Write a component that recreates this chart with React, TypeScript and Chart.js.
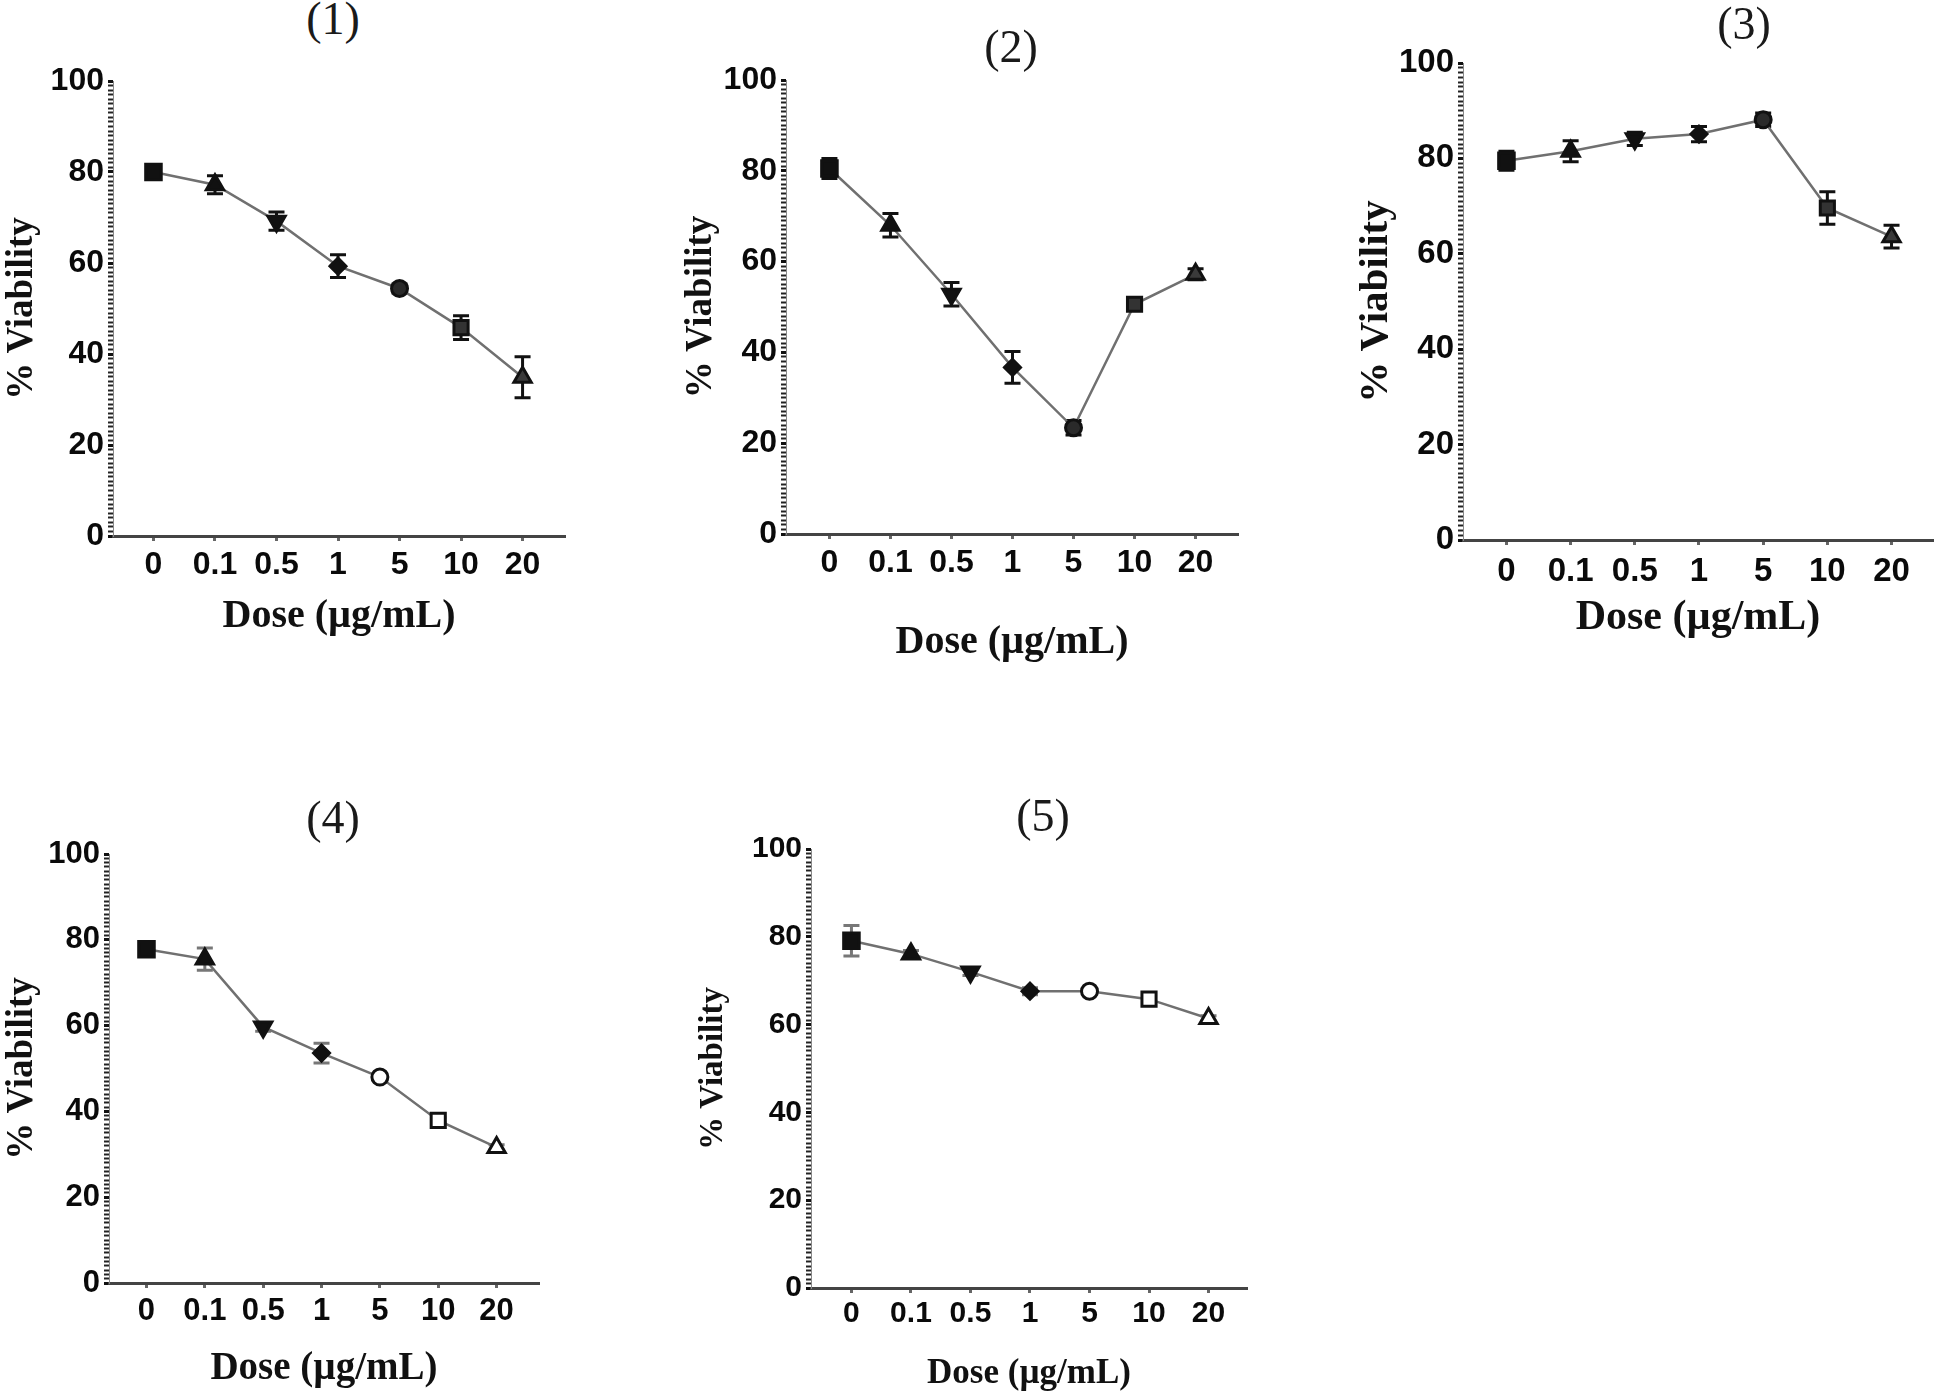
import React, { useEffect, useRef } from 'react';
import { Chart, registerables } from 'chart.js';

Chart.register(...registerables);

// ---- data ----
const doseLabels = ['0', '0.1', '0.5', '1', '5', '10', '20'];
const doseIndex = [0, 1, 2, 3, 4, 5, 6];
const panelTitles = ['(1)', '(2)', '(3)', '(4)', '(5)'];
const yAxisTitle = '% Viability';
const xAxisTitle = 'Dose (µg/mL)';

const viability1 = [80.0, 77.2, 69.2, 59.3, 54.4, 45.8, 34.9];
const error1 = [1.4, 2.0, 2.0, 2.5, 1.0, 2.6, 4.5];
const viability2 = [80.5, 68.0, 52.8, 36.7, 23.4, 50.6, 57.2];
const error2 = [2.2, 2.6, 2.6, 3.5, 1.6, 1.0, 1.2];
const viability3 = [79.5, 81.5, 84.1, 85.1, 88.1, 69.6, 63.6];
const error3 = [2.0, 2.2, 1.4, 1.6, 1.4, 3.4, 2.4];
const viability4 = [77.8, 75.5, 59.7, 53.6, 48.0, 37.9, 31.6];
const error4 = [0.6, 2.6, 1.0, 2.3, 0.6, 0.6, 0.6];
const viability5 = [79.1, 76.1, 72.0, 67.6, 67.6, 65.8, 61.4];
const error5 = [3.5, 0.8, 0.8, 0.8, 0.6, 0.6, 0.6];

// marker sequence (GraphPad style)
const markerStyles = ['rect', 'triangle', 'triangle', 'rectRot', 'circle', 'rect', 'triangle'];
const markerRotations = [0, 0, 180, 0, 0, 0, 0];
const markerRadii = [11, 10, 10, 8, 8, 10, 10];
const filledFills = ['#111', '#111', '#111', '#111', '#2a2a2a', '#333', '#3a3a3a'];
const openFills = ['#111', '#111', '#111', '#111', '#fff', '#fff', '#fff'];

type PanelCfg = {
  title: string;
  values: number[];
  errors: number[];
  fills: string[];
  errColor: string;
  axisLeft: number; axisRight: number; axisTop: number; axisBottom: number;
  cat0: number; cat6: number;
  yTitleX: number; yTitleFont: number;
  xTitleY: number; xTitleFont: number;
  tickFont: number; xTickPad: number;
  titleX: number; titleY: number; titleFont: number;
};

const panels: PanelCfg[] = [
  { title: panelTitles[0], values: viability1, errors: error1, fills: filledFills, errColor: '#111',
    axisLeft: 113, axisRight: 571, axisTop: 81, axisBottom: 536, cat0: 154, cat6: 528,
    yTitleX: 22, yTitleFont: 37, xTitleY: 617, xTitleFont: 40, tickFont: 32, xTickPad: 5,
    titleX: 333, titleY: 19, titleFont: 46 },
  { title: panelTitles[1], values: viability2, errors: error2, fills: filledFills, errColor: '#111',
    axisLeft: 786, axisRight: 1244, axisTop: 80, axisBottom: 534, cat0: 830, cat6: 1201,
    yTitleX: 701, yTitleFont: 37, xTitleY: 643, xTitleFont: 40, tickFont: 32, xTickPad: 5,
    titleX: 1011, titleY: 47, titleFont: 46 },
  { title: panelTitles[2], values: viability3, errors: error3, fills: filledFills, errColor: '#111',
    axisLeft: 1463, axisRight: 1939, axisTop: 63, axisBottom: 540, cat0: 1507, cat6: 1897,
    yTitleX: 1377, yTitleFont: 41, xTitleY: 618, xTitleFont: 42, tickFont: 33, xTickPad: 7,
    titleX: 1744, titleY: 24, titleFont: 46 },
  { title: panelTitles[3], values: viability4, errors: error4, fills: openFills, errColor: '#777',
    axisLeft: 109, axisRight: 545, axisTop: 854, axisBottom: 1283, cat0: 147, cat6: 502,
    yTitleX: 22, yTitleFont: 37, xTitleY: 1369, xTitleFont: 39, tickFont: 31, xTickPad: 5,
    titleX: 333, titleY: 818, titleFont: 46 },
  { title: panelTitles[4], values: viability5, errors: error5, fills: openFills, errColor: '#777',
    axisLeft: 811, axisRight: 1253, axisTop: 849, axisBottom: 1288, cat0: 852, cat6: 1214,
    yTitleX: 714, yTitleFont: 33, xTitleY: 1374, xTitleFont: 35, tickFont: 30, xTickPad: 3,
    titleX: 1043, titleY: 816, titleFont: 46 },
];

const SANS = "'Liberation Sans', Arial, sans-serif";
const SERIF = "'Liberation Serif', 'Times New Roman', serif";

function errorBarPlugin(errors: number[], color: string) {
  return {
    id: 'errorBars',
    beforeDatasetsDraw(chart: any) {
      const { ctx, scales } = chart;
      const x = scales.x, y = scales.y;
      const ds = chart.data.datasets[0];
      ctx.save();
      ctx.strokeStyle = color;
      ctx.lineWidth = 3;
      ds.data.forEach((p: any, i: number) => {
        const e = errors[i];
        if (!e) return;
        const px = x.getPixelForValue(p.x);
        const yt = y.getPixelForValue(p.y + e);
        const yb = y.getPixelForValue(p.y - e);
        const cap = 8;
        ctx.beginPath();
        ctx.moveTo(px, yt); ctx.lineTo(px, yb);
        ctx.moveTo(px - cap, yt); ctx.lineTo(px + cap, yt);
        ctx.moveTo(px - cap, yb); ctx.lineTo(px + cap, yb);
        ctx.stroke();
      });
      ctx.restore();
    },
  };
}

function Panel({ cfg }: { cfg: PanelCfg }) {
  const ref = useRef<HTMLCanvasElement | null>(null);

  const padTop = 24;
  const padRight = 8;
  const canvasLeft = Math.round(cfg.yTitleX - cfg.yTitleFont * 0.6);
  const canvasTop = cfg.axisTop - padTop;
  const canvasBottom = Math.round(cfg.xTitleY + cfg.xTitleFont * 0.6);
  const canvasRight = cfg.axisRight + padRight;
  const width = canvasRight - canvasLeft;
  const height = canvasBottom - canvasTop;
  const yAxisWidth = cfg.axisLeft - canvasLeft;
  const xAxisHeight = canvasBottom - cfg.axisBottom;
  const sp = (cfg.cat6 - cfg.cat0) / 6;
  const xMin = -(cfg.cat0 - cfg.axisLeft) / sp;
  const xMax = 6 + (cfg.axisRight - cfg.cat6) / sp;

  useEffect(() => {
    if (!ref.current) return;
    const chart = new Chart(ref.current, {
      type: 'line',
      data: {
        datasets: [
          {
            data: cfg.values.map((v, i) => ({ x: doseIndex[i], y: v })),
            borderColor: '#707070',
            borderWidth: 2.5,
            tension: 0,
            pointStyle: markerStyles as any,
            pointRotation: markerRotations,
            pointRadius: markerRadii,
            pointBackgroundColor: cfg.fills as any,
            pointBorderColor: '#111',
            pointBorderWidth: 3,
          },
        ],
      },
      options: {
        responsive: false,
        animation: false,
        devicePixelRatio: 1,
        layout: { padding: { top: padTop, right: padRight, bottom: 0, left: 0 } },
        plugins: {
          legend: { display: false },
          tooltip: { enabled: false },
          title: { display: false },
        },
        scales: {
          x: {
            type: 'linear',
            bounds: 'data',
            min: xMin,
            max: xMax,
            afterBuildTicks: (s: any) => {
              s.ticks = doseIndex.map((v) => ({ value: v }));
            },
            afterFit: (s: any) => {
              s.height = xAxisHeight;
            },
            ticks: {
              autoSkip: false,
              maxRotation: 0,
              padding: cfg.xTickPad,
              color: '#0a0a0a',
              font: { family: SANS, weight: 'bold', size: cfg.tickFont },
              callback: (v: any) => doseLabels[Math.round(Number(v))] ?? '',
            },
            grid: {
              drawOnChartArea: false,
              drawTicks: true,
              tickLength: 5,
              tickColor: '#666',
              tickWidth: 3,
            },
            border: { display: true, color: '#444', width: 3 },
            title: {
              display: true,
              text: xAxisTitle,
              color: '#111',
              padding: 0,
              font: { family: SERIF, weight: 'bold', size: cfg.xTitleFont },
            },
          },
          y: {
            type: 'linear',
            min: 0,
            max: 100,
            afterFit: (s: any) => {
              s.width = yAxisWidth;
            },
            ticks: {
              stepSize: 1,
              autoSkip: false,
              padding: 4,
              color: '#0a0a0a',
              font: { family: SANS, weight: 'bold', size: cfg.tickFont },
              callback: (v: any) => (Number(v) % 20 === 0 ? String(v) : ''),
            },
            grid: {
              drawOnChartArea: false,
              drawTicks: true,
              tickLength: 5,
              tickColor: (c: any) => (c.tick && c.tick.value % 20 === 0 ? '#111' : '#222'),
              tickWidth: (c: any) => (c.tick && c.tick.value % 20 === 0 ? 3 : 2),
            },
            border: { display: true, color: '#888', width: 1 },
            title: {
              display: true,
              text: yAxisTitle,
              color: '#111',
              padding: 0,
              font: { family: SERIF, weight: 'bold', size: cfg.yTitleFont },
            },
          },
        },
      } as any,
      plugins: [errorBarPlugin(cfg.errors, cfg.errColor)],
    });
    return () => chart.destroy();
  }, []);

  return (
    <>
      <canvas
        ref={ref}
        width={width}
        height={height}
        style={{ position: 'absolute', left: canvasLeft, top: canvasTop, width, height }}
      />
      <div
        style={{
          position: 'absolute',
          left: cfg.titleX - 100,
          top: cfg.titleY - cfg.titleFont / 2,
          width: 200,
          textAlign: 'center',
          fontFamily: SERIF,
          fontSize: cfg.titleFont,
          lineHeight: `${cfg.titleFont}px`,
          color: '#1a1a1a',
        }}
      >
        {cfg.title}
      </div>
    </>
  );
}

export default function App() {
  return (
    <div
      style={{
        position: 'absolute',
        left: 0,
        top: 0,
        width: 1946,
        height: 1396,
        background: '#fff',
        overflow: 'hidden',
      }}
    >
      {panels.map((p) => (
        <Panel key={p.title} cfg={p} />
      ))}
    </div>
  );
}
